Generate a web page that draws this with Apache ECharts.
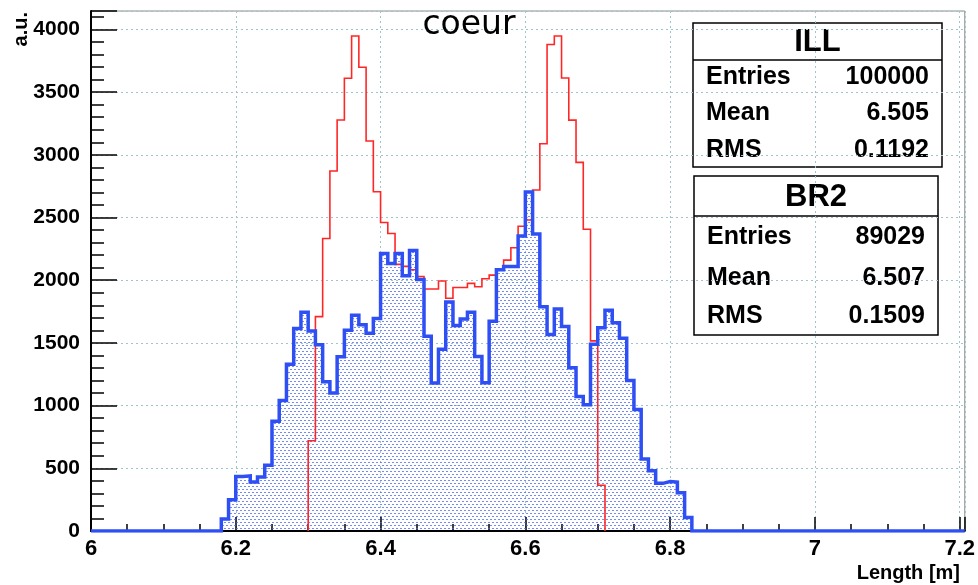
<!DOCTYPE html>
<html>
<head>
<meta charset="utf-8">
<script src="https://cdn.jsdelivr.net/npm/echarts@6/dist/echarts.min.js"></script>
<style>
html, body { margin: 0; padding: 0; background: #fff; }
#chart { width: 978px; height: 585px; }
</style>
</head>
<body>
<div id="chart"></div>
<script>
// Bin width of both histograms (m)
const binWidth = 0.01;

// ILL: lower edge of the first filled bin and counts per bin
const illFirstEdge = 6.30;
const illCounts = [
  720, 1710, 2333, 2871, 3278, 3611, 3948, 3698, 3110, 2706,
  2460, 2373, 2126, 2110, 2083, 2030, 1930, 1930, 1994, 1856,
  1942, 1942, 1975, 1948, 2012, 2041, 2085, 2160, 2259, 2430,
  2480, 2720, 3088, 3880, 3948, 3613, 3277, 2940, 2407, 1516, 365
];

// BR2: lower edge of the first filled bin and counts per bin
const br2FirstEdge = 6.18;
const br2Counts = [
  95, 250, 435, 440, 390, 430, 525, 875, 1040, 1330,
  1615, 1745, 1595, 1485, 1190, 1100, 1390, 1600, 1720, 1645,
  1578, 1695, 2214, 2134, 2214, 2036, 2237, 2005, 1553, 1180,
  1450, 1827, 1638, 1690, 1744, 1392, 1182, 1672, 2084, 2110,
  2110, 2352, 2704, 2368, 1788, 1568, 1770, 1630, 1302, 1072,
  1007, 1490, 1620, 1760, 1660, 1538, 1200, 968, 575, 480,
  380, 395, 390, 305, 108
];

// Axis ranges and tick steps
const xRange = [6, 7.207];
const xTickStep = 0.2;
const yRange = [0, 4147];
const yTickStep = 500;

// Statistics boxes
const statTitles = ['ILL', 'BR2'];
const statLabels = ['Entries', 'Mean', 'RMS'];
const illStats = ['100000', '6.505', '0.1192'];
const br2Stats = ['89029', '6.507', '0.1509'];

const titleText = 'coeur';
const xAxisTitle = 'Length [m]';
const yAxisTitle = 'a.u.';

// Step outline points: baseline at the first edge, one point per bin right edge, back to baseline
function stepPoints(firstEdge, counts) {
  const pts = [[firstEdge, 0]];
  counts.forEach(function (v, i) {
    pts.push([+(firstEdge + (i + 1) * binWidth).toFixed(3), v]);
  });
  pts.push([+(firstEdge + counts.length * binWidth).toFixed(3), 0]);
  return pts;
}

const illPts = stepPoints(illFirstEdge, illCounts);
const br2Pts = [[xRange[0], 0]].concat(stepPoints(br2FirstEdge, br2Counts), [[xRange[1], 0]]);

// Dotted fill used under the BR2 outline
function dotPattern() {
  const c = document.createElement('canvas');
  c.width = 4; c.height = 6;
  const g = c.getContext('2d');
  g.fillStyle = 'rgba(70, 100, 240, 0.75)';
  g.fillRect(0, 0, 2, 1);
  g.fillRect(2, 3, 2, 1);
  return c;
}

const FONT = '"Liberation Sans", Arial, Helvetica, sans-serif';
const gridColor = '#9fc4cc';

// Statistics box drawing
function statBox(left, top, width, height, header, rowYs, title, values) {
  const children = [
    { type: 'rect', shape: { x: left, y: top, width: width, height: height },
      style: { fill: '#fff', stroke: '#000', lineWidth: 1.5 } },
    { type: 'line', shape: { x1: left, y1: top + header, x2: left + width, y2: top + header },
      style: { stroke: '#000', lineWidth: 1.5 } },
    { type: 'text', x: left + width / 2, y: top + header / 2 + 1,
      style: { text: title, font: 'bold 31px ' + FONT, fill: '#000', align: 'center', verticalAlign: 'middle' } }
  ];
  statLabels.forEach(function (lab, i) {
    children.push({ type: 'text', x: left + 13, y: top + rowYs[i],
      style: { text: lab, font: 'bold 25px ' + FONT, fill: '#000', align: 'left', verticalAlign: 'middle' } });
    children.push({ type: 'text', x: left + width - 13, y: top + rowYs[i],
      style: { text: values[i], font: 'bold 25px ' + FONT, fill: '#000', align: 'right', verticalAlign: 'middle' } });
  });
  return { type: 'group', z: 100, children: children };
}

const chart = echarts.init(document.getElementById('chart'), null, { renderer: 'canvas' });

chart.setOption({
  animation: false,
  backgroundColor: '#fff',
  grid: {
    left: 91, right: 10, top: 11, bottom: 54,
    show: true, borderColor: '#8c8c8c', borderWidth: 1, backgroundColor: '#fff'
  },
  xAxis: {
    type: 'value',
    min: xRange[0], max: xRange[1], interval: xTickStep,
    axisLine: { show: true, onZero: false, lineStyle: { color: '#000', width: 2 } },
    axisTick: { show: true, inside: true, length: 14, lineStyle: { color: '#000', width: 1.5 } },
    minorTick: { show: true, splitNumber: 4, length: 7, lineStyle: { color: '#000', width: 1.5 } },
    axisLabel: {
      showMaxLabel: false, margin: 7, color: '#000',
      fontFamily: FONT, fontWeight: 'bold', fontSize: 22,
      formatter: function (v) { return String(+v.toFixed(2)); }
    },
    splitLine: { show: true, lineStyle: { color: gridColor, width: 1, type: [2, 3] } }
  },
  yAxis: {
    type: 'value',
    min: yRange[0], max: yRange[1], interval: yTickStep,
    axisLine: { show: true, lineStyle: { color: '#000', width: 2 } },
    axisTick: { show: true, inside: true, length: 26, lineStyle: { color: '#000', width: 1.5 } },
    minorTick: { show: true, splitNumber: 5, length: 13, lineStyle: { color: '#000', width: 1.5 } },
    axisLabel: {
      showMaxLabel: false, margin: 11, color: '#000',
      fontFamily: FONT, fontWeight: 'bold', fontSize: 21,
      formatter: function (v) { return String(Math.round(v)); }
    },
    splitLine: { show: true, lineStyle: { color: gridColor, width: 1, type: [2, 3] } }
  },
  series: [
    {
      name: 'BR2 fill', type: 'line', step: 'start', data: br2Pts,
      showSymbol: false, silent: true, z: 2,
      lineStyle: { width: 0, opacity: 0 },
      areaStyle: { color: { image: dotPattern(), repeat: 'repeat' }, opacity: 1 }
    },
    {
      name: 'ILL', type: 'line', step: 'start', data: illPts,
      showSymbol: false, silent: true, z: 3,
      lineStyle: { color: '#ff2626', width: 1.6, join: 'miter' }
    },
    {
      name: 'BR2', type: 'line', step: 'start', data: br2Pts,
      showSymbol: false, silent: true, z: 4,
      lineStyle: { color: '#2d4ff4', width: 3.5, join: 'miter' }
    }
  ],
  graphic: [
    { type: 'text', x: 469, y: 25, z: 100,
      style: { text: titleText, font: '33px "DejaVu Sans", Verdana, sans-serif', fill: '#000', align: 'center', verticalAlign: 'middle' } },
    { type: 'text', x: 960, y: 573, z: 100,
      style: { text: xAxisTitle, font: 'bold 20px ' + FONT, fill: '#000', align: 'right', verticalAlign: 'middle' } },
    { type: 'text', x: 21, y: 12, rotation: Math.PI / 2, z: 100,
      style: { text: yAxisTitle, font: 'bold 20px ' + FONT, fill: '#000', align: 'right', verticalAlign: 'middle' } },
    statBox(693, 23, 249, 144, 37, [54, 90, 127], statTitles[0], illStats),
    statBox(694, 176, 244, 159, 40, [61, 102, 140], statTitles[1], br2Stats)
  ]
});
</script>
</body>
</html>
